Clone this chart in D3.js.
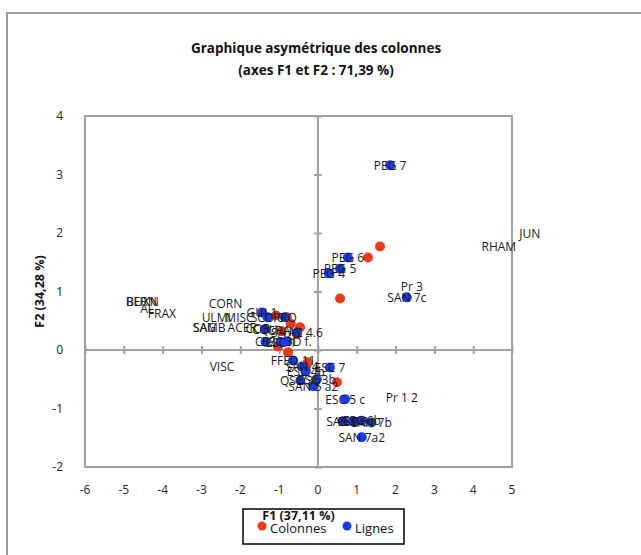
<!DOCTYPE html>
<html><head><meta charset="utf-8">
<script src="https://cdn.jsdelivr.net/npm/d3@7"></script>
<style>
body{margin:0;background:#fff;}
svg{display:block;}
text{font-family:"Open Sans","Noto Sans",sans-serif;}
</style></head>
<body>
<svg id="c" width="641" height="555"></svg>
<script>
// ---- data ----
const xTicks = [-6,-5,-4,-3,-2,-1,0,1,2,3,4,5];
const yTicks = [-2,-1,0,1,2,3,4];
const titleLines = ["Graphique asymétrique des colonnes", "(axes F1 et F2 : 71,39 %)"];
const xTitle = "F1 (37,11 %)";
const yTitle = "F2 (34,28 %)";
const legendNames = ["Colonnes", "Lignes"];

// Colonnes : markers (red)
const colonnesX = [1.60, 1.29, 0.57, 0.49, -0.26, -0.77, -0.80, -1.08, -0.46, -0.54, -0.93, -1.03, -0.70, -0.30];
const colonnesY = [1.77, 1.58, 0.88, -0.55, -0.21, -0.04, 0.56, 0.59, 0.39, 0.27, 0.32, 0.06, 0.45, -0.27];
// Colonnes : labels
const colonnesNoms = ["BERN","BUXN","AL","FRAX","CORN","ULMI","MISC","SAG","SAMB","ACER","COR","VISC","JUN","RHAM","CRA","HA"];
const colonnesNomX = [-4.55,-4.52,-4.40,-4.02,-2.38,-2.62,-2.02,-2.92,-2.80,-1.95,-1.55,-2.47,5.46,4.66,-1.00,-0.68];
const colonnesNomY = [0.83,0.83,0.71,0.63,0.79,0.56,0.56,0.39,0.39,0.38,0.36,-0.29,1.99,1.77,0.33,0.31];

// Lignes : points (blue) with labels
const lignesNoms = ["PEG 7","PEG 6","PEG 5","PEG 4","SAN 7c","Pr 3",
  "GUI 1","SCO 0","PRO","CQU","CS2","ESC 1","ESC 3D f.","SA A2 4.6",
  "FFED 11","SAN 4","ESC 4b","QSC 3b","ESC 3b","SAN 5 a2","ESC 7","ESC 5 c","Pr 1 2",
  "SAN 6","ESC 6","ESC 6b","SAN 7b","SAN 7a2"];
const lignesX = [1.86,0.77,0.57,0.28,2.29,2.42,
  -1.44,-1.30,-0.85,-1.37,-1.35,-0.95,-0.80,-0.54,
  -0.64,-0.41,-0.31,-0.45,-0.03,-0.12,0.31,0.70,2.16,
  0.64,0.90,1.13,1.38,1.13];
const lignesY = [3.16,1.58,1.39,1.31,0.90,1.09,
  0.64,0.56,0.56,0.35,0.14,0.13,0.15,0.30,
  -0.18,-0.28,-0.36,-0.52,-0.50,-0.62,-0.30,-0.84,-0.81,
  -1.22,-1.22,-1.21,-1.24,-1.49];
// lignes shown without a marker (point hidden)
const lignesSansPoint = ["Pr 3","Pr 1 2"];

// ---- drawing ----
const svg = d3.select("#c");
const RED = "#ee3b17", BLUE = "#1a3cf0", GRID = "#a0a0a0";
const x = d3.scaleLinear().domain([-6,5]).range([85,512]);
const y = d3.scaleLinear().domain([-2,4]).range([467,116]);

// outer frame
svg.append("rect").attr("x",7).attr("y",13).attr("width",660).attr("height",580)
  .attr("fill","none").attr("stroke","#999").attr("stroke-width",2);

// title
svg.selectAll("text.title").data(titleLines).enter().append("text")
  .attr("x",316).attr("y",(d,i)=>53+i*22).attr("text-anchor","middle")
  .attr("font-weight","bold").attr("font-size",13.5).attr("fill","#111").text(d=>d);

// plot box
svg.append("rect").attr("x",x(-6)).attr("y",y(4)).attr("width",x(5)-x(-6)).attr("height",y(-2)-y(4))
  .attr("fill","none").attr("stroke",GRID).attr("stroke-width",2);

// zero axes with crossing ticks
const xAxis = d3.axisBottom(x).tickValues(xTicks).tickSizeInner(8).tickSizeOuter(0).tickFormat("");
const gx = svg.append("g").attr("transform",`translate(0,${y(0)+4})`).call(xAxis);
gx.select(".domain").remove();
gx.selectAll(".tick line").attr("stroke",GRID).attr("stroke-width",2).attr("y1",-8).attr("y2",0);
const yAxis = d3.axisLeft(y).tickValues(yTicks).tickSizeInner(8).tickSizeOuter(0).tickFormat("");
const gy = svg.append("g").attr("transform",`translate(${x(0)+4},0)`).call(yAxis);
gy.select(".domain").remove();
gy.selectAll(".tick line").attr("stroke",GRID).attr("stroke-width",2);
svg.append("line").attr("x1",x(-6)).attr("x2",x(5)).attr("y1",y(0)).attr("y2",y(0)).attr("stroke",GRID).attr("stroke-width",2);
svg.append("line").attr("x1",x(0)).attr("x2",x(0)).attr("y1",y(-2)).attr("y2",y(4)).attr("stroke",GRID).attr("stroke-width",2);

// tick labels
svg.selectAll("text.xt").data(xTicks).enter().append("text")
  .attr("x",d=>x(d)).attr("y",494).attr("text-anchor","middle").attr("font-size",12).attr("fill","#222").text(d=>d);
svg.selectAll("text.yt").data(yTicks).enter().append("text")
  .attr("x",63).attr("y",d=>y(d)+4).attr("text-anchor","end").attr("font-size",12).attr("fill","#222").text(d=>d);

// y title
svg.append("text").attr("transform",`translate(44,${(y(4)+y(-2))/2}) rotate(-90)`)
  .attr("text-anchor","middle").attr("font-weight","bold").attr("font-size",12.5).attr("fill","#111").text(yTitle);

// markers
const cols = colonnesX.map((v,i)=>({x:v,y:colonnesY[i]}));
const lig = lignesNoms.map((n,i)=>({n, x:lignesX[i], y:lignesY[i]}));
svg.selectAll("circle.col").data(cols).enter().append("circle")
  .attr("cx",d=>x(d.x)).attr("cy",d=>y(d.y)).attr("r",5).attr("fill",RED);
svg.selectAll("circle.lig").data(lig.filter(d=>!lignesSansPoint.includes(d.n))).enter().append("circle")
  .attr("cx",d=>x(d.x)).attr("cy",d=>y(d.y)).attr("r",5).attr("fill",BLUE);

// labels
const labs = colonnesNoms.map((n,i)=>({n,x:colonnesNomX[i],y:colonnesNomY[i]})).concat(lig);
svg.selectAll("text.lab").data(labs).enter().append("text")
  .attr("x",d=>x(d.x)).attr("y",d=>y(d.y)+4.5).attr("text-anchor","middle")
  .attr("font-size",12).attr("fill","#1a1a1a").text(d=>d.n);

// legend
const lg = svg.append("g");
lg.append("rect").attr("x",243).attr("y",509).attr("width",161).attr("height",35)
  .attr("fill","#fff").attr("stroke","#000").attr("stroke-width",1.5);
const lx = [262,347];
lg.selectAll("circle").data(legendNames).enter().append("circle")
  .attr("cx",(d,i)=>lx[i]).attr("cy",526).attr("r",4.5).attr("fill",(d,i)=>i?BLUE:RED);
lg.selectAll("text").data(legendNames).enter().append("text")
  .attr("x",(d,i)=>lx[i]+8).attr("y",533).attr("font-size",13).attr("fill","#111").text(d=>d);

// x title (overlapping legend like reference)
svg.append("text").attr("x",(x(-6)+x(5))/2).attr("y",520).attr("text-anchor","middle")
  .attr("font-weight","bold").attr("font-size",12.5).attr("fill","#111").text(xTitle);
</script>
</body></html>
